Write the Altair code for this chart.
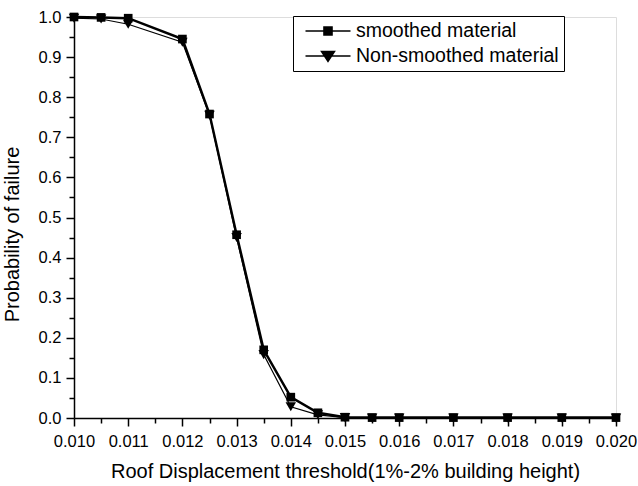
import altair as alt
import pandas as pd

x_vals = [0.010, 0.0105, 0.011, 0.012, 0.0125, 0.013, 0.0135, 0.014, 0.0145,
          0.015, 0.0155, 0.016, 0.017, 0.018, 0.019, 0.020]
smoothed = [1.0, 0.999, 0.997, 0.945, 0.758, 0.457, 0.170, 0.052, 0.013,
            0.002, 0.001, 0.001, 0.001, 0.001, 0.001, 0.001]
non_smoothed = [0.997, 0.995, 0.982, 0.937, 0.755, 0.450, 0.158, 0.028, 0.008,
                0.001, 0.0, 0.0, 0.0, 0.0, 0.0, 0.0]
series_names = ["smoothed material", "Non-smoothed material"]
x_ticks = [round(0.010 + 0.0005 * i, 4) for i in range(21)]
y_ticks = [round(0.05 * i, 2) for i in range(21)]

rows = []
for name, vals in zip(series_names, [smoothed, non_smoothed]):
    for xv, yv in zip(x_vals, vals):
        rows.append({"x": xv, "y": yv, "series": name})
df = pd.DataFrame(rows)

FONT = "Liberation Sans"

x_axis = alt.Axis(
    values=x_ticks,
    labelExpr="round(datum.value*2000)%2==1 ? '' : format(datum.value,'.3f')",
    tickSize={"condition": {"test": "round(datum.value*2000)%2==1", "value": 5}, "value": 8},
    tickColor="black", tickWidth=1.5, domainColor="black", domainWidth=1.5,
    labelFontSize=16.5, labelColor="black", labelFont=FONT, labelPadding=7,
    title="Roof Displacement threshold(1%-2% building height)",
    titleFontSize=20, titleFont=FONT, titleFontWeight="normal", titleColor="black",
    titleY=43, grid=False, labelFlush=False,
)
y_axis = alt.Axis(
    values=y_ticks,
    labelExpr="round(datum.value*20)%2==1 ? '' : format(datum.value,'.1f')",
    tickSize={"condition": {"test": "round(datum.value*20)%2==1", "value": 5}, "value": 8},
    tickColor="black", tickWidth=1.5, domainColor="black", domainWidth=1.5,
    labelFontSize=16.5, labelColor="black", labelFont=FONT, labelPadding=5,
    title="Probability of failure",
    titleFontSize=20, titleFont=FONT, titleFontWeight="normal", titleColor="black",
    titleX=-52, titleY=217, grid=False, labelFlush=False,
)

xenc = alt.X("x:Q", scale=alt.Scale(domain=[0.010, 0.020], nice=False), axis=x_axis)
yenc = alt.Y("y:Q", scale=alt.Scale(domain=[0, 1], nice=False), axis=y_axis)

sw_scale = alt.Scale(domain=series_names, range=[2.5, 1.2])

lines = alt.Chart(df).mark_line(color="black", clip=False).encode(
    x=xenc, y=yenc,
    detail="series:N",
    strokeWidth=alt.StrokeWidth("series:N", scale=sw_scale, legend=None),
)

points = alt.Chart(df).mark_point(filled=True, color="black", opacity=1, clip=False).encode(
    x=xenc, y=yenc,
    shape=alt.Shape("series:N", scale=alt.Scale(domain=series_names,
                                                range=["square", "triangle-down"]),
                    legend=None),
    size=alt.Size("series:N", scale=alt.Scale(domain=series_names, range=[75, 110]), legend=None),
)

legend_paths = [
    "M-2.5,0H2.5M-0.45,-0.45H0.45V0.45H-0.45Z",
    "M-2.5,0H2.5M-0.72,-0.5L0.72,-0.5L0,0.6Z",
]
legend_props = dict(
    title=None, orient="none", legendX=219, legendY=-1,
    symbolSize=324, symbolOffset=20, symbolOpacity=1,
    labelFontSize=19.5, labelFont=FONT, labelColor="black",
    labelLimit=400, rowPadding=5, labelOffset=18,
    strokeColor="black", fillColor="white", padding=5,
    cornerRadius=0,
)
legend_layer = alt.Chart(df).transform_filter("false").mark_point(
    filled=True, fill="black", stroke="black", opacity=1
).encode(
    x=xenc, y=yenc,
    shape=alt.Shape("series:N", scale=alt.Scale(domain=series_names, range=legend_paths),
                    legend=alt.Legend(**legend_props)),
    strokeWidth=alt.StrokeWidth("series:N", scale=sw_scale, legend=alt.Legend(**legend_props)),
)

chart = alt.layer(lines, points, legend_layer).resolve_scale(
    shape="independent"
).properties(
    width=542, height=401,
    padding={"left": 74, "top": 17, "right": 22, "bottom": 68},
    autosize=alt.AutoSizeParams(type="none"),
).configure_view(stroke="black", strokeWidth=1.5).configure(background="white")

chart.save("out.html", embed_options={"renderer": "svg", "actions": False})
